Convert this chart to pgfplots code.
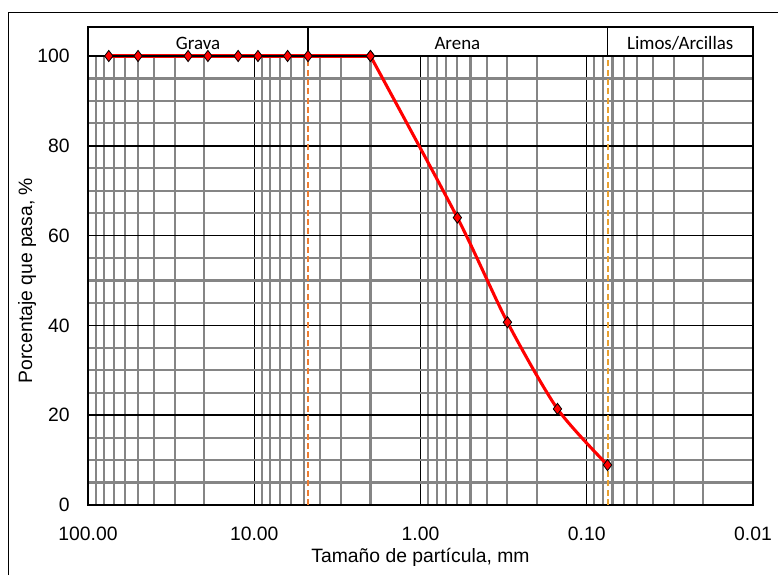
\documentclass[border=0pt]{standalone}
\usepackage{pgfplots}
\usepackage{pgfplotstable}
\pgfplotsset{compat=1.18}
\usepackage{fontspec}
\setmainfont{Liberation Sans}
\newfontfamily\calibri{Carlito}

\definecolor{gridgray}{HTML}{858585}
\definecolor{dashorange}{HTML}{ED7D31}
\definecolor{dashgold}{HTML}{E8A030}

% grain size (mm) vs percent passing
\pgfplotstableread{
d      p
75     100
50     100
25     100
19     100
12.5   100
9.5    100
6.3    100
4.75   100
2.0    100
}\grava
\pgfplotstableread{
d      p
2.0    100
0.6    64
0.3    40.7
0.15   21.4
0.075  8.9
}\arena

\begin{document}
\begin{tikzpicture}
\begin{axis}[
    at={(66pt,52.5pt)}, anchor=south west,
    width=498.75pt, height=336.75pt, scale only axis,
    xmode=log, log basis x=10, x dir=reverse,
    xmin=0.01, xmax=100, ymin=0, ymax=100,
    xtick={0.01,0.1,1,10,100},
    xticklabels={0.01,0.10,1.00,10.00,100.00},
    minor xtick={0.02,0.03,0.04,0.05,0.06,0.07,0.08,0.09,
                 0.2,0.3,0.4,0.5,0.6,0.7,0.8,0.9,
                 2,3,4,5,6,7,8,9,20,30,40,50,60,70,80,90},
    ytick={0,20,...,100},
    minor ytick={5,10,15,25,30,35,45,50,55,65,70,75,85,90,95},
    grid=both,
    major grid style={black, line width=1.1pt},
    minor grid style={gridgray, line width=1.6pt},
    axis line style={black, line width=1.6pt},
    major tick length=0pt, minor tick length=0pt,
    /pgf/number format/assume math mode=true,
    ticklabel style={font=\fontsize{14.5}{16}\selectfont},
    x tick label style={anchor=base, yshift=-26.25pt},
    y tick label style={anchor=east, inner sep=0pt, xshift=-13.5pt},
    xlabel={Tamaño de partícula, mm},
    ylabel={Porcentaje que pasa, \%},
    label style={font=\fontsize{14.5}{16}\selectfont},
    xlabel style={at={(axis description cs:0.5,-0.127)}, anchor=base},
    ylabel style={at={(axis description cs:-0.0842,0.5)}, anchor=base},
    clip=false,
]
% limits of the fractions
\addplot[dashorange, line width=1.5pt, dash pattern=on 4.5pt off 2.5pt]
    coordinates {(4.75,0) (4.75,100)};
\addplot[dashgold, line width=1.5pt, dash pattern=on 4.5pt off 2.5pt]
    coordinates {(0.075,0) (0.075,100)};
% grading curve
\addplot[red, line width=2.3pt, no marks] table[x=d, y=p] {\grava};
\addplot[red, line width=2.3pt, smooth, tension=0.45, no marks] table[x=d, y=p] {\arena};
% band with the soil fractions (29 px high in the reference)
\draw[black, line width=1.5pt] (axis cs:100,100) rectangle ([yshift=21.75pt]axis cs:0.01,100);
\draw[black, line width=1pt] (axis cs:4.75,100) -- ([yshift=21.75pt]axis cs:4.75,100);
\draw[black, line width=1pt] (axis cs:0.075,100) -- ([yshift=21.75pt]axis cs:0.075,100);
\node[anchor=base, font=\calibri\fontsize{14.2}{16}\selectfont] at ([yshift=4.5pt]axis cs:21.8,100) {Grava};
\node[anchor=base, font=\calibri\fontsize{14.2}{16}\selectfont] at ([yshift=4.5pt]axis cs:0.6,100) {Arena};
\node[anchor=base, font=\calibri\fontsize{14.2}{16}\selectfont] at ([yshift=4.5pt]axis cs:0.0274,100) {Limos/Arcillas};
% sieve points
\addplot[only marks, mark=diamond*, mark size=4.2pt,
    mark options={fill=red, draw=black, line width=0.6pt}] table[x=d, y=p] {\grava};
\addplot[only marks, mark=diamond*, mark size=4.2pt,
    mark options={fill=red, draw=black, line width=0.6pt}] table[x=d, y=p] {\arena};
\end{axis}
\draw[black, line width=0.75pt] (6pt,0pt) -- (6pt,421.5pt) -- (583.5pt,421.5pt);
\pgfresetboundingbox
\path[use as bounding box] (0,0) rectangle (583.5pt,431.25pt);
\end{tikzpicture}
\end{document}
